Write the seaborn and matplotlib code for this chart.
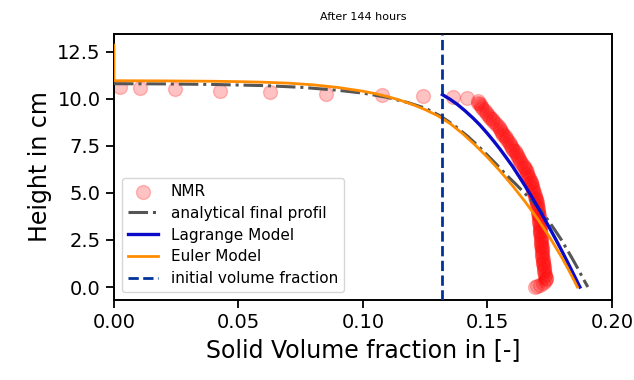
import matplotlib
matplotlib.use("Agg")
import matplotlib.pyplot as plt
import seaborn as sns
import pandas as pd

# ---------------- data ----------------
# NMR measurements (solid volume fraction, height in cm)
nmr_x = [0.0024, 0.0104, 0.0245, 0.0426, 0.0627, 0.0851, 0.1075, 0.1242,
         0.1363, 0.1416,
         0.1460, 0.1463, 0.1468, 0.1473, 0.1478, 0.1485, 0.1492, 0.1498, 0.1505, 0.1512,
         0.1518, 0.1524, 0.1530, 0.1538, 0.1545, 0.1549, 0.1553, 0.1557, 0.1562, 0.1569,
         0.1575, 0.1580, 0.1585, 0.1591, 0.1596, 0.1600, 0.1603, 0.1609, 0.1615, 0.1619,
         0.1622, 0.1626, 0.1630, 0.1636, 0.1642, 0.1646, 0.1650, 0.1654, 0.1657, 0.1660,
         0.1663, 0.1667, 0.1670, 0.1673, 0.1676, 0.1678, 0.1680, 0.1682, 0.1684, 0.1687,
         0.1689, 0.1691, 0.1693, 0.1695, 0.1697, 0.1699, 0.1700, 0.1701, 0.1702, 0.1703,
         0.1704, 0.1705, 0.1706, 0.1706, 0.1707, 0.1708, 0.1709, 0.1709, 0.1710, 0.1711,
         0.1712, 0.1712, 0.1713, 0.1713, 0.1714, 0.1715, 0.1716, 0.1716, 0.1717, 0.1717,
         0.1718, 0.1719, 0.1720, 0.1720, 0.1721, 0.1722, 0.1723, 0.1724, 0.1725, 0.1726,
         0.1727, 0.1728, 0.1730, 0.1732, 0.1734, 0.1733, 0.1730, 0.1722, 0.1712,
         0.1690, 0.1700]
nmr_y = [10.64, 10.56, 10.50, 10.41, 10.34, 10.25, 10.20, 10.13,
         10.11, 10.03,
         9.9, 9.8, 9.7, 9.6, 9.5, 9.4, 9.3, 9.2, 9.1, 9.0,
         8.9, 8.8, 8.7, 8.6, 8.5, 8.4, 8.3, 8.2, 8.1, 8.0,
         7.9, 7.8, 7.7, 7.6, 7.5, 7.4, 7.3, 7.2, 7.1, 7.0,
         6.9, 6.8, 6.7, 6.6, 6.5, 6.4, 6.3, 6.2, 6.1, 6.0,
         5.9, 5.8, 5.7, 5.6, 5.5, 5.4, 5.3, 5.2, 5.1, 5.0,
         4.9, 4.8, 4.7, 4.6, 4.5, 4.4, 4.3, 4.2, 4.1, 4.0,
         3.9, 3.8, 3.7, 3.6, 3.5, 3.4, 3.3, 3.2, 3.1, 3.0,
         2.9, 2.8, 2.7, 2.6, 2.5, 2.4, 2.3, 2.2, 2.1, 2.0,
         1.9, 1.8, 1.7, 1.6, 1.5, 1.4, 1.3, 1.2, 1.1, 1.0,
         0.9, 0.8, 0.7, 0.6, 0.5, 0.4, 0.3, 0.2, 0.1,
         0.02, 0.05]

# analytical final profile
ana_x = [0.000, 0.020, 0.040, 0.060, 0.075, 0.090, 0.100, 0.1095, 0.118, 0.125,
         0.1309, 0.1365, 0.1421, 0.1462, 0.1500, 0.1537, 0.1572, 0.1611, 0.1648, 0.1684,
         0.1717, 0.1746, 0.1772, 0.1797, 0.1819, 0.1841, 0.1862, 0.1882, 0.1903]
ana_y = [10.80, 10.79, 10.76, 10.70, 10.61, 10.45, 10.30, 10.08, 9.80, 9.50,
         9.10, 8.60, 8.00, 7.50, 7.00, 6.50, 6.00, 5.50, 5.00, 4.50,
         4.00, 3.50, 3.00, 2.50, 2.00, 1.50, 1.00, 0.50, 0.00]

# Lagrange model
lag_x = [0.1319, 0.1350, 0.1380, 0.1410, 0.1443, 0.1470, 0.1500, 0.1525, 0.1550, 0.1575,
         0.1600, 0.1625, 0.1650, 0.1675, 0.1700, 0.1725, 0.1750, 0.1775, 0.1800, 0.1825,
         0.1850, 0.1871]
lag_y = [10.22, 9.97, 9.69, 9.36, 8.96, 8.60, 8.15, 7.75, 7.33, 6.88,
         6.42, 5.91, 5.39, 4.85, 4.29, 3.71, 3.12, 2.51, 1.88, 1.23,
         0.56, 0.00]

# Euler model
eul_x = [0.000, 0.000, 0.020, 0.040, 0.050, 0.060, 0.070, 0.080, 0.090, 0.100,
         0.105, 0.110, 0.115, 0.120, 0.125, 0.130, 0.135, 0.140, 0.145, 0.150,
         0.155, 0.160, 0.165, 0.170, 0.175, 0.180, 0.1825, 0.185, 0.1861]
eul_y = [12.85, 10.96, 10.95, 10.93, 10.91, 10.88, 10.83, 10.74, 10.60, 10.40,
         10.27, 10.11, 9.92, 9.69, 9.42, 9.10, 8.68, 8.15, 7.55, 6.89,
         6.17, 5.39, 4.55, 3.64, 2.64, 1.53, 0.93, 0.29, 0.00]

# initial volume fraction
init_phi = 0.1316

x_ticks = [0.00, 0.05, 0.10, 0.15, 0.20]
y_ticks = [0.0, 2.5, 5.0, 7.5, 10.0, 12.5]

# ---------------- plot ----------------
fig = plt.figure(figsize=(6.34, 3.80), dpi=100)
ax = fig.add_axes([0.1798, 0.2105, 0.9653 - 0.1798, 0.9105 - 0.2105])

nmr = pd.DataFrame({"x": nmr_x, "y": nmr_y})
sns.scatterplot(data=nmr, x="x", y="y", ax=ax, s=100, color="red", alpha=0.24,
                edgecolor="red", linewidth=1.0, label="NMR", zorder=2)

ana = pd.DataFrame({"x": ana_x, "y": ana_y})
sns.lineplot(data=ana, x="x", y="y", ax=ax, sort=False, estimator=None,
             color="#555555", lw=2.2, linestyle="-.",
             label="analytical final profil", zorder=3)

lag = pd.DataFrame({"x": lag_x, "y": lag_y})
sns.lineplot(data=lag, x="x", y="y", ax=ax, sort=False, estimator=None,
             color="#0a0ac8", lw=2.4, label="Lagrange Model", zorder=4)

eul = pd.DataFrame({"x": eul_x, "y": eul_y})
sns.lineplot(data=eul, x="x", y="y", ax=ax, sort=False, estimator=None,
             color="#ff8c00", lw=2.0, label="Euler Model", zorder=5)

ax.axvline(init_phi, color="#00339a", lw=2.0, linestyle="--",
           label="initial volume fraction", zorder=6)

ax.set_xlim(0, 0.20)
ax.set_ylim(-0.69, 13.44)
ax.set_xticks(x_ticks)
ax.set_yticks(y_ticks)
ax.tick_params(labelsize=14, length=6, width=1.3)
for sp in ax.spines.values():
    sp.set_linewidth(1.4)

ax.set_xlabel("Solid Volume fraction in [-]", fontsize=17)
ax.set_ylabel("Height in cm", fontsize=17)
ax.set_title("After 144 hours", fontsize=8, pad=10)

ax.legend(loc="lower left", fontsize=11, labelspacing=0.45, handlelength=2.0,
          borderaxespad=0.5)

fig.savefig("out.png", dpi=100)
